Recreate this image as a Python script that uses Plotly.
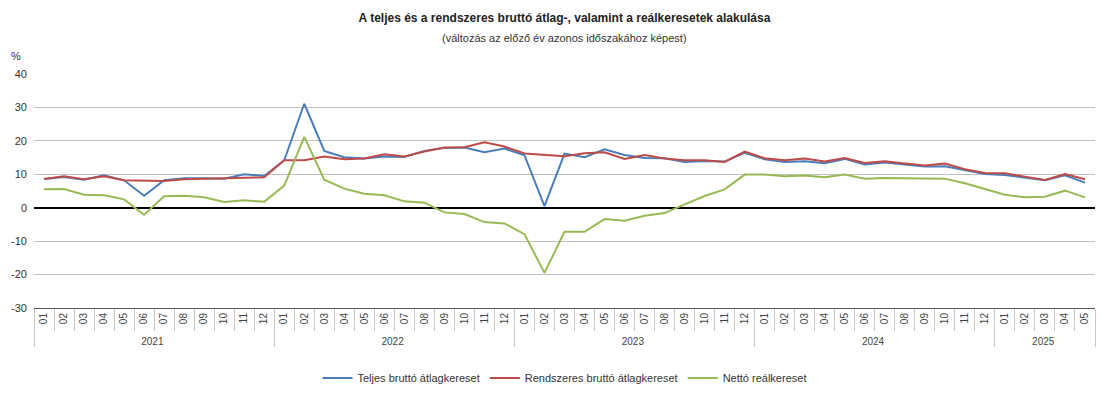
import plotly.graph_objects as go

years = ["2021"] * 12 + ["2022"] * 12 + ["2023"] * 12 + ["2024"] * 12 + ["2025"] * 5
months = [f"{m:02d}" for m in range(1, 13)] * 4 + [f"{m:02d}" for m in range(1, 6)]

y_ticks = [-30, -20, -10, 0, 10, 20, 30, 40]
y_labels = ["-30", "-20", "-10", "0", "10", "20", "30", "40"]

teljes = [8.6, 9.2, 8.4, 9.7, 8.2, 3.6, 8.2, 8.8, 8.8, 8.7, 10.0, 9.5,
          14.2, 31.1, 17.0, 15.1, 14.7, 15.3, 15.2, 17.0, 17.9, 18.0, 16.6, 17.7,
          15.7, 0.5, 16.2, 15.1, 17.5, 15.8, 14.9, 14.8, 13.7, 14.0, 13.8, 16.4,
          14.5, 13.7, 13.9, 13.3, 14.6, 12.9, 13.5, 12.9, 12.3, 12.4, 11.2, 10.1,
          9.8, 9.0, 8.2, 9.7, 7.5]
rendszeres = [8.6, 9.4, 8.5, 9.4, 8.2, 8.1, 8.0, 8.5, 8.7, 8.7, 9.1, 9.1,
              14.2, 14.2, 15.3, 14.5, 14.7, 16.0, 15.3, 16.8, 18.0, 18.1, 19.6, 18.3,
              16.2, 15.9, 15.4, 16.3, 16.6, 14.6, 15.8, 14.7, 14.2, 14.2, 13.7, 16.8,
              14.8, 14.2, 14.7, 13.8, 14.9, 13.4, 13.9, 13.2, 12.6, 13.2, 11.5, 10.4,
              10.3, 9.3, 8.3, 10.1, 8.5]
netto = [5.5, 5.6, 3.9, 3.7, 2.5, -2.1, 3.4, 3.6, 3.1, 1.7, 2.2, 1.8,
         6.6, 21.2, 8.4, 5.7, 4.2, 3.7, 1.9, 1.5, -1.4, -1.9, -4.3, -4.7,
         -7.9, -19.5, -7.2, -7.2, -3.4, -3.9, -2.4, -1.6, 1.0, 3.5, 5.5, 9.9,
         9.9, 9.4, 9.6, 9.1, 9.9, 8.7, 8.9, 8.9, 8.8, 8.7, 7.3, 5.5,
         3.9, 3.1, 3.3, 5.1, 3.1]

names = ["Teljes bruttó átlagkereset", "Rendszeres bruttó átlagkereset", "Nettó reálkereset"]
colors = ["#4a7ebb", "#be4b48", "#98b954"]
series = [teljes, rendszeres, netto]

fig = go.Figure()
for name, vals, col in zip(names, series, colors):
    fig.add_trace(go.Scatter(x=[years, months], y=vals, name=name, mode="lines",
                             line=dict(color=col, width=2)))

W, H = 1110, 397
L, R, T, B = 34, 15, 74, 89
FONT = "Liberation Sans, Arial, sans-serif"
fig.update_layout(
    width=W, height=H,
    margin=dict(l=L, r=R, t=T, b=B, autoexpand=False),
    paper_bgcolor="white", plot_bgcolor="white",
    font=dict(family=FONT, size=11, color="#333333"),
    title=dict(text="<b>A teljes és a rendszeres bruttó átlag-, valamint a reálkeresetek alakulása</b>",
               x=0.5, xanchor="center", xref="paper", yref="container", y=1 - 18 / H, yanchor="middle",
               font=dict(size=12, color="#222222")),
    showlegend=True,
    legend=dict(orientation="h", x=0.5, xanchor="center", xref="paper", yref="container",
                y=1 - 378 / H, yanchor="middle",
                font=dict(size=11, color="#333333")),
)
plot_h = H - T - B
plot_w = W - L - R
fig.add_annotation(text="(változás az előző év azonos időszakához képest)", xref="paper", yref="paper",
                   x=0.5, y=(H - B - 38) / plot_h, xanchor="center", yanchor="middle",
                   showarrow=False, font=dict(size=11, color="#333333"))
fig.add_annotation(text="%", xref="paper", yref="paper", x=-25 / plot_w, y=(H - B - 56) / plot_h,
                   xanchor="left", yanchor="middle", showarrow=False, font=dict(size=11, color="#333333"))

fig.update_yaxes(range=[-30, 40], tickmode="array", tickvals=y_ticks, ticktext=y_labels,
                 showgrid=True, gridcolor="#c0c0c0", gridwidth=1,
                 zeroline=True, zerolinecolor="#000000", zerolinewidth=1.5, automargin=False,
                 showline=False, ticks="", ticklabelstandoff=6,
                 tickfont=dict(size=11, color="#333333"), fixedrange=True)
fig.update_xaxes(type="multicategory", range=[-0.5, len(months) - 0.5],
                 showline=True, linecolor="#555555", linewidth=1, automargin=False,
                 tickangle=-90, ticks="outside", tickson="boundaries", ticklen=22, tickcolor="#c8c8c8",
                 showdividers=True, dividercolor="#c8c8c8", dividerwidth=1,
                 tickfont=dict(size=10, color="#444444"), showgrid=False)

fig.write_html("out.html", config={"displayModeBar": False},
               post_script="document.body.style.margin='0';document.body.style.overflow='hidden';")
